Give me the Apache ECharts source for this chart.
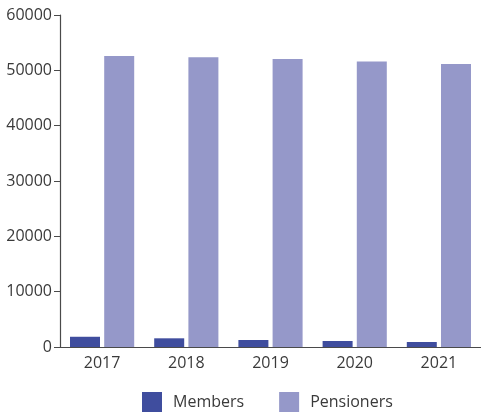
<!DOCTYPE html>
<html>
<head>
<meta charset="utf-8">
<script src="https://cdn.jsdelivr.net/npm/echarts@6/dist/echarts.min.js"></script>
<style>
  html, body { margin: 0; padding: 0; background: #fff; }
  #chart { width: 481px; height: 415px; }
</style>
</head>
<body>
<div id="chart"></div>
<script>
// Yearly headcount: active members vs. pensioners
const years = ['2017', '2018', '2019', '2020', '2021'];
const members = [1850, 1570, 1270, 1090, 900];
const pensioners = [52600, 52350, 52050, 51600, 51150];
const yTicks = [0, 10000, 20000, 30000, 40000, 50000, 60000];

const FONT = '"Open Sans", "DejaVu Sans", sans-serif';
const TEXT = '#3a3a3a';
const AXIS = '#4a4a4a';

const chart = echarts.init(document.getElementById('chart'), null, { renderer: 'canvas' });
chart.setOption({
  backgroundColor: '#fff',
  animation: false,
  grid: { left: 60, right: -2, top: 15, bottom: 68 },
  legend: {
    bottom: -2,
    left: 137,
    itemWidth: 20,
    itemHeight: 20,
    itemGap: 35,
    icon: 'rect',
    textStyle: { fontFamily: FONT, fontSize: 16, color: TEXT, padding: [0, 0, 0, 6] },
    data: ['Members', 'Pensioners']
  },
  xAxis: {
    type: 'category',
    data: years,
    axisLine: { lineStyle: { color: AXIS, width: 1.2 } },
    axisTick: { inside: true, length: 6, lineStyle: { color: AXIS } },
    axisLabel: { fontFamily: FONT, fontSize: 16, color: TEXT, margin: 8 }
  },
  yAxis: {
    type: 'value',
    min: yTicks[0],
    max: yTicks[yTicks.length - 1],
    interval: 10000,
    splitLine: { show: false },
    axisLine: { show: true, lineStyle: { color: AXIS, width: 1.2 } },
    axisTick: { show: true, length: 6, lineStyle: { color: AXIS } },
    axisLabel: {
      fontFamily: FONT, fontSize: 16, color: TEXT, margin: 8,
      formatter: v => String(v)
    }
  },
  series: [
    {
      name: 'Members',
      type: 'bar',
      data: members,
      barWidth: 30,
      barGap: '14%',
      itemStyle: { color: '#3f4d9e' }
    },
    {
      name: 'Pensioners',
      type: 'bar',
      data: pensioners,
      barWidth: 30,
      itemStyle: { color: '#9598c9' }
    }
  ]
});
</script>
</body>
</html>
